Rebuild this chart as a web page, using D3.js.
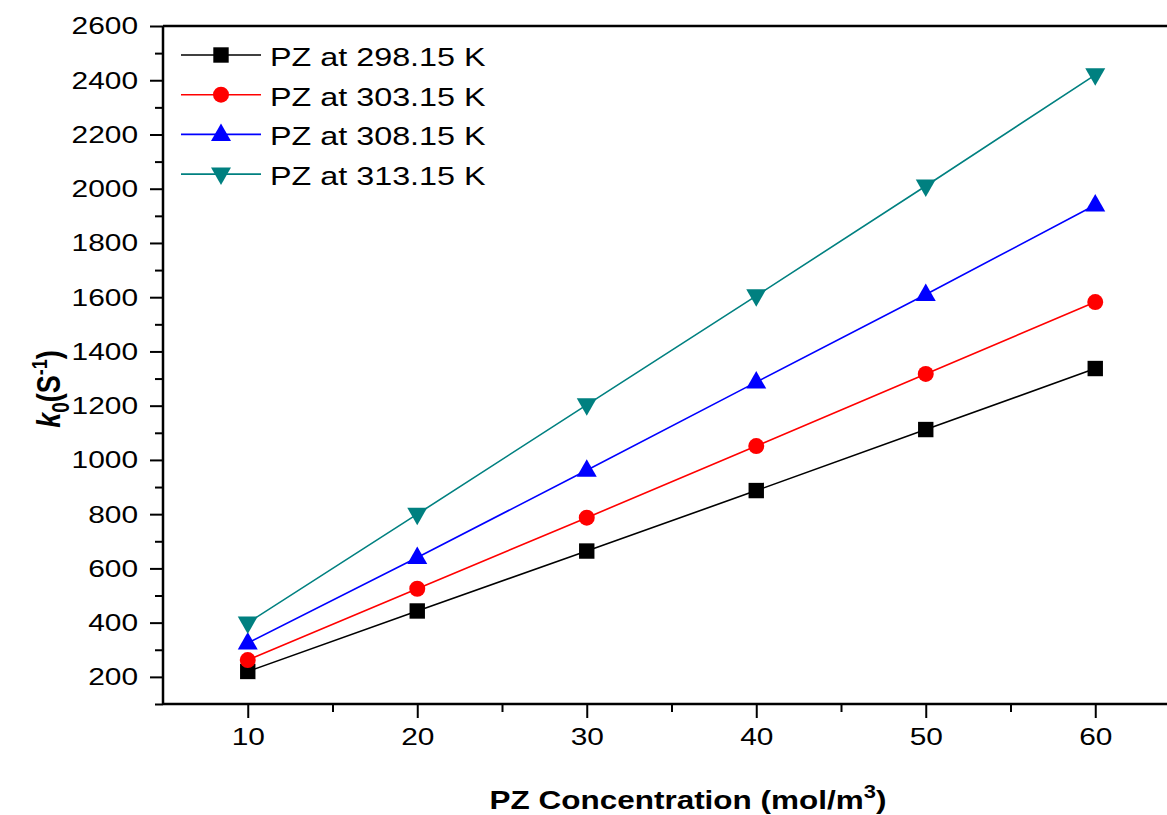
<!DOCTYPE html>
<html>
<head>
<meta charset="utf-8">
<script src="https://cdn.jsdelivr.net/npm/d3@7"></script>
<style>
  html, body { margin: 0; padding: 0; background: #fff; }
  svg { display: block; font-family: Arial, "Liberation Sans", sans-serif; }
</style>
</head>
<body>
<svg id="chart" width="1167" height="815"></svg>
<script>
// PZ concentration (mol/m3)
const concentrations = [10, 20, 30, 40, 50, 60];

// Pseudo-first-order rate constant k0 (s^-1) at each temperature
const k0At298 = [220, 443, 664, 887, 1112, 1337];
const k0At303 = [262, 525, 787, 1051, 1317, 1582];
const k0At308 = [325, 640, 962, 1287, 1610, 1940];
const k0At313 = [399, 800, 1203, 1605, 2010, 2420];

const seriesNames = ["PZ at 298.15 K", "PZ at 303.15 K", "PZ at 308.15 K", "PZ at 313.15 K"];
const seriesColors = ["#000000", "#ff0000", "#0000ff", "#008080"];
const seriesSymbols = ["square", "circle", "triangleUp", "triangleDown"];

const xTicks = [10, 20, 30, 40, 50, 60];
const yTicks = [200, 400, 600, 800, 1000, 1200, 1400, 1600, 1800, 2000, 2200, 2400, 2600];

const series = [k0At298, k0At303, k0At308, k0At313].map((vals, i) => ({
  name: seriesNames[i],
  color: seriesColors[i],
  symbol: seriesSymbols[i],
  points: concentrations.map((c, j) => ({ x: c, y: vals[j] }))
}));

const svg = d3.select("#chart");
const plotLeft = 163, plotRight = 1180, plotTop = 26, plotBottom = 704;
const textStretch = 1.22;   // wide lettering used throughout the figure

const x = d3.scaleLinear().domain([5, 65]).range([plotLeft, plotRight]);
const y = d3.scaleLinear().domain([100, 2600]).range([plotBottom, plotTop]);

// widen text horizontally about its anchor point
function stretch(sel) {
  sel.each(function () {
    const ax = +(this.getAttribute("x") || 0);
    this.setAttribute("transform", `translate(${ax * (1 - textStretch)},0) scale(${textStretch},1)`);
  });
}

// marker shapes
function markerPath(sym) {
  switch (sym) {
    case "square": return "M-7.7,-7.7H7.7V7.7H-7.7Z";
    case "circle": return d3.symbol(d3.symbolCircle, 200)();
    case "triangleUp": return "M0,-11L10,6.5L-10,6.5Z";
    case "triangleDown": return "M0,11L10,-6.5L-10,-6.5Z";
  }
}

// top edge of the frame
svg.append("line").attr("x1", plotLeft).attr("x2", 1167).attr("y1", plotTop).attr("y2", plotTop)
  .attr("stroke", "#000").attr("stroke-width", 2.5);

// x axis
const xAxis = svg.append("g").attr("transform", `translate(0,${plotBottom})`)
  .call(d3.axisBottom(x).tickValues(xTicks).tickSize(14).tickPadding(10).tickFormat(d3.format("d")));
xAxis.select(".domain").attr("stroke-width", 2.5).attr("d", `M${plotLeft},0H1167`);
xAxis.selectAll(".tick line").attr("stroke-width", 2);
xAxis.selectAll(".tick text").attr("font-size", 24.5).attr("fill", "#000")
  .attr("font-family", "Arial, 'Liberation Sans', sans-serif").call(stretch);
svg.append("g").attr("transform", `translate(0,${plotBottom})`)
  .call(d3.axisBottom(x).tickValues([15, 25, 35, 45, 55]).tickSize(8).tickFormat(""))
  .call(g => g.select(".domain").remove())
  .selectAll(".tick line").attr("stroke-width", 2);

// y axis
const yAxis = svg.append("g").attr("transform", `translate(${plotLeft},0)`)
  .call(d3.axisLeft(y).tickValues(yTicks).tickSize(13).tickPadding(12).tickFormat(d3.format("d")));
yAxis.select(".domain").attr("stroke-width", 2.5).attr("d", `M0,${plotBottom}V${plotTop}`);
yAxis.selectAll(".tick line").attr("stroke-width", 2);
yAxis.selectAll(".tick text").attr("font-size", 24.5).attr("fill", "#000")
  .attr("font-family", "Arial, 'Liberation Sans', sans-serif").call(stretch);
svg.append("g").attr("transform", `translate(${plotLeft},0)`)
  .call(d3.axisLeft(y).tickValues(d3.range(100, 2600, 200)).tickSize(8).tickFormat(""))
  .call(g => g.select(".domain").remove())
  .selectAll(".tick line").attr("stroke-width", 2);

// series lines and markers
const line = d3.line().x(d => x(d.x)).y(d => y(d.y));
series.forEach(s => {
  svg.append("path").datum(s.points).attr("d", line)
    .attr("fill", "none").attr("stroke", s.color).attr("stroke-width", 1.6);
  svg.selectAll(null).data(s.points).enter().append("path")
    .attr("d", markerPath(s.symbol))
    .attr("transform", d => `translate(${x(d.x)},${y(d.y)})`)
    .attr("fill", s.color);
});

// legend
const legend = svg.append("g");
series.forEach((s, i) => {
  const ly = 55 + i * 39.7;
  legend.append("line").attr("x1", 181).attr("x2", 261).attr("y1", ly).attr("y2", ly)
    .attr("stroke", s.color).attr("stroke-width", 1.6);
  legend.append("path").attr("d", markerPath(s.symbol))
    .attr("transform", `translate(221,${ly})`).attr("fill", s.color);
  legend.append("text").attr("x", 270).attr("y", ly + 11)
    .attr("font-size", 26.5).attr("fill", "#000").text(s.name).call(stretch);
});

// axis titles
const xt = svg.append("text").attr("x", 688).attr("y", 809).attr("text-anchor", "middle")
  .attr("font-size", 25.8).attr("font-weight", "bold").attr("fill", "#000");
xt.append("tspan").text("PZ Concentration (mol/m");
xt.append("tspan").attr("dy", -11).attr("font-size", 18).text("3");
xt.append("tspan").attr("dy", 11).text(")");
xt.call(stretch);

const yt = svg.append("text")
  .attr("transform", `translate(60,389) scale(${textStretch},1) rotate(-90)`)
  .attr("text-anchor", "middle").attr("font-size", 27).attr("font-weight", "bold").attr("fill", "#000");
yt.append("tspan").attr("font-style", "italic").text("k");
yt.append("tspan").attr("dy", 7).attr("font-size", 19).text("0");
yt.append("tspan").attr("dy", -7).text("(S");
yt.append("tspan").attr("dy", -11).attr("font-size", 18).text("-1");
yt.append("tspan").attr("dy", 11).text(")");
</script>
</body>
</html>
